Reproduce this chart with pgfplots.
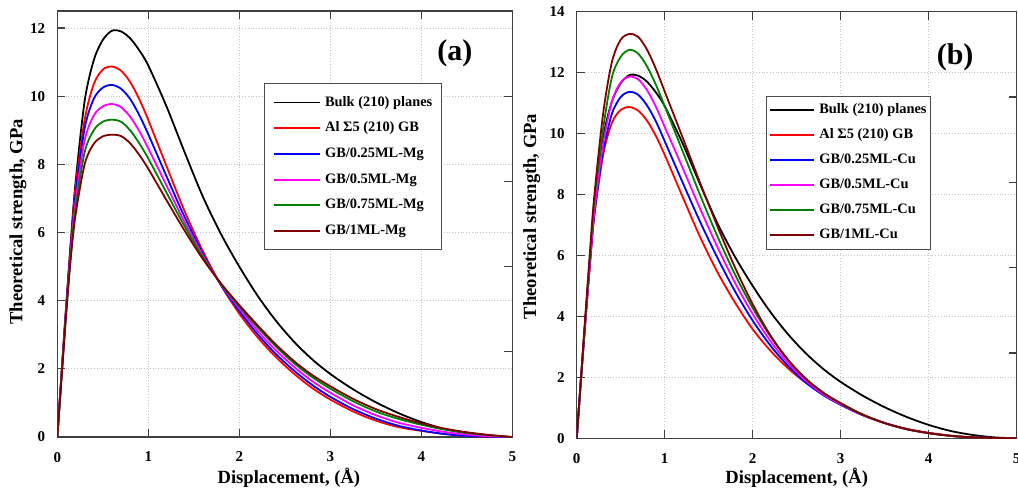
\documentclass[border=0pt]{standalone}
\usepackage{fontspec}
\setmainfont{Liberation Serif}
\usepackage{pgfplots}
\usepackage{pgfplotstable}
\pgfplotsset{compat=1.18}

\definecolor{cgreen}{RGB}{0,128,0}
\definecolor{cbrown}{RGB}{128,0,0}
\definecolor{cmag}{RGB}{255,0,255}

% panel (a): Mg segregation
\pgfplotstableread{
x     bulk   gb     c25    c50   c75   c100
0     0      0      0      0     0     0
0.05  2.0    2.0    1.95   1.9   1.9   1.85
0.1   3.95   3.9    3.85   3.8   3.75  3.7
0.15  5.8    5.7    5.6    5.5   5.4   5.3
0.2   7.45   7.3    7.1    6.9   6.7   6.5
0.3   9.85   9.3    9.05   8.7   8.35  8.0
0.4   11.05  10.35  9.92   9.43  9.0   8.6
0.5   11.65  10.78  10.25  9.7   9.25  8.82
0.6   11.92  10.87  10.33  9.77  9.31  8.87
0.7   11.9   10.75  10.22  9.68  9.25  8.83
0.8   11.7   10.42  9.92   9.4   9.0   8.62
0.9   11.35  9.92   9.45   8.98  8.62  8.28
1.0   10.9   9.3    8.88   8.47  8.17  7.87
1.2   9.7    7.95   7.65   7.38  7.17  6.95
1.4   8.35   6.62   6.45   6.3   6.18  6.05
1.6   7.05   5.45   5.38   5.32  5.28  5.22
1.8   5.95   4.45   4.45   4.47  4.48  4.5
2.0   5.0    3.62   3.7    3.78  3.83  3.87
2.2   4.15   2.93   3.02   3.12  3.22  3.28
2.4   3.42   2.35   2.44   2.55  2.66  2.72
2.6   2.8    1.86   1.95   2.06  2.17  2.23
2.8   2.28   1.44   1.53   1.64  1.76  1.82
3.0   1.85   1.1    1.18   1.3   1.42  1.49
3.25  1.4    0.75   0.82   0.93  1.05  1.12
3.5   1.02   0.48   0.54   0.64  0.75  0.82
3.75  0.7    0.29   0.33   0.42  0.53  0.59
4.0   0.44   0.18   0.19   0.27  0.36  0.4
4.25  0.24   0.09   0.09   0.15  0.22  0.25
4.5   0.11   0.03   0.03   0.07  0.12  0.14
4.75  0.03   0.01   0.01   0.02  0.05  0.06
5.0   0      0      0      0     0     0
}\tabA

% panel (b): Cu segregation
\pgfplotstableread{
x     bulk   gb     c25    c50   c75   c100
0     0      0      0      0     0     0
0.05  2.0    2.0    2.0    2.0   2.0   2.05
0.1   3.95   3.9    3.9    3.9   4.0   4.1
0.15  5.8    5.7    5.7    5.75  5.95  6.1
0.2   7.45   7.3    7.35   7.45  7.8   7.95
0.3   9.85   9.3    9.4    9.65  10.15 10.65
0.4   11.05  10.35  10.65  11.05 11.85 12.35
0.5   11.65  10.78  11.2   11.68 12.52 13.08
0.6   11.92  10.87  11.37  11.87 12.75 13.27
0.7   11.9   10.75  11.27  11.78 12.62 13.17
0.8   11.7   10.42  10.92  11.42 12.2  12.75
0.9   11.35  9.92   10.4   10.88 11.6  12.12
1.0   10.9   9.3    9.75   10.22 10.9  11.38
1.2   9.7    7.95   8.42   8.9   9.45  9.9
1.4   8.35   6.62   7.12   7.55  8.0   8.4
1.6   7.05   5.45   5.92   6.27  6.62  6.95
1.8   5.95   4.45   4.82   5.1   5.37  5.6
2.0   5.0    3.58   3.86   4.08  4.28  4.4
2.2   4.15   2.88   3.05   3.2   3.35  3.38
2.4   3.42   2.3    2.38   2.48  2.58  2.58
2.6   2.8    1.83   1.84   1.9   1.97  1.96
2.8   2.28   1.43   1.42   1.45  1.5   1.5
3.0   1.85   1.1    1.1    1.12  1.15  1.15
3.25  1.4    0.76   0.76   0.77  0.78  0.78
3.5   1.02   0.5    0.5    0.5   0.5   0.5
3.75  0.7    0.31   0.3    0.3   0.3   0.3
4.0   0.44   0.18   0.17   0.17  0.17  0.17
4.25  0.24   0.09   0.08   0.08  0.08  0.08
4.5   0.11   0.03   0.03   0.03  0.03  0.03
4.75  0.03   0.01   0.01   0.01  0.01  0.01
5.0   0      0      0      0     0     0
}\tabB

\pgfplotsset{
  tsaxis/.style={
    scale only axis, anchor=south west,
    xmin=0, xmax=5, ymin=0,
    xtick={0,...,5},
    ytick pos=left,
    tick align=inside,
    major tick length=4pt,
    axis line style={black!75, line width=0.7pt},
    tick style={black!75, line width=0.6pt},
    grid=major,
    grid style={densely dotted, black!22, line width=0.4pt},
    /pgf/number format/assume math mode=true,
    ticklabel style={font=\fontsize{7.5}{9}\selectfont\bfseries},
    xticklabel style={yshift=-4pt},
    yticklabel style={xshift=-2.5pt},
    label style={font=\fontsize{9.3}{11}\selectfont\bfseries},
    xlabel={Displacement, (Å)},
    ylabel={Theoretical strength, GPa},
    legend cell align=left,
    legend style={font=\fontsize{7.2}{8.5}\selectfont\bfseries,
      draw=black!70, anchor=north west,
      nodes={inner sep=0pt, text height=5pt, text depth=1.5pt},
      column sep=2pt},
  },
  curve/.style={draw=#1, line width=0.9pt, smooth, tension=0.5},
  sideticks/.style={
    scale only axis, anchor=south west,
    xmin=0, xmax=1, ymin=0, ymax=5,
    hide x axis, axis y line*=right,
    ytick={1,2,3,4}, yticklabels={},
    tick align=inside, major tick length=4pt,
    axis line style={draw=none},
    tick style={black!75, line width=0.6pt},
  },
}

\begin{document}
\begin{tikzpicture}
\useasboundingbox (0,0) rectangle (509pt,246.5pt);

% ---- (a)
\begin{axis}[tsaxis, at={(28.65pt,28pt)}, width=227.5pt, height=213pt,
  ymax=12.5, ytick={0,2,...,12},
  xlabel style={at={(axis description cs:0.509,-0.096)}, anchor=center},
  ylabel style={at={(axis description cs:-0.0864,0.505)}, anchor=center},
  legend image code/.code={\draw[#1] (0pt,0pt) -- (23pt,0pt);},
  legend style={at={(0.455,0.830)}, inner xsep=4.3pt, inner ysep=6.1pt, row sep=6.35pt},
]
\addplot[curve=black] table[x=x, y=bulk] {\tabA};
\addplot[curve=red] table[x=x, y=gb] {\tabA};
\addplot[curve=blue] table[x=x, y=c25] {\tabA};
\addplot[curve=cmag] table[x=x, y=c50] {\tabA};
\addplot[curve=cgreen] table[x=x, y=c75] {\tabA};
\addplot[curve=cbrown] table[x=x, y=c100] {\tabA};
\legend{Bulk (210) planes, Al Σ5 (210) GB, GB/0.25ML-Mg, GB/0.5ML-Mg, GB/0.75ML-Mg, GB/1ML-Mg}
\node[font=\fontsize{15}{17}\selectfont\bfseries] at (axis description cs:0.874,0.901) {(a)};
\end{axis}
\begin{axis}[sideticks, at={(28.65pt,28pt)}, width=227.5pt, height=213pt]
\end{axis}

% ---- (b)
\begin{axis}[tsaxis, at={(288.35pt,27.35pt)}, width=220pt, height=213.3pt,
  ymax=14, ytick={0,2,...,14},
  xlabel style={at={(axis description cs:0.5,-0.093)}, anchor=center},
  ylabel style={at={(axis description cs:-0.102,0.52)}, anchor=center},
  legend image code/.code={\draw[#1] (0pt,0pt) -- (22pt,0pt);},
  legend style={at={(0.4295,0.802)}, inner xsep=1.75pt, inner ysep=3.65pt, row sep=6pt},
]
\addplot[curve=black] table[x=x, y=bulk] {\tabB};
\addplot[curve=red] table[x=x, y=gb] {\tabB};
\addplot[curve=blue] table[x=x, y=c25] {\tabB};
\addplot[curve=cmag] table[x=x, y=c50] {\tabB};
\addplot[curve=cgreen] table[x=x, y=c75] {\tabB};
\addplot[curve=cbrown] table[x=x, y=c100] {\tabB};
\legend{Bulk (210) planes, Al Σ5 (210) GB, GB/0.25ML-Cu, GB/0.5ML-Cu, GB/0.75ML-Cu, GB/1ML-Cu}
\node[font=\fontsize{15}{17}\selectfont\bfseries] at (axis description cs:0.86,0.894) {(b)};
\end{axis}
\begin{axis}[sideticks, at={(288.35pt,27.35pt)}, width=220pt, height=213.3pt]
\end{axis}
\end{tikzpicture}
\end{document}
